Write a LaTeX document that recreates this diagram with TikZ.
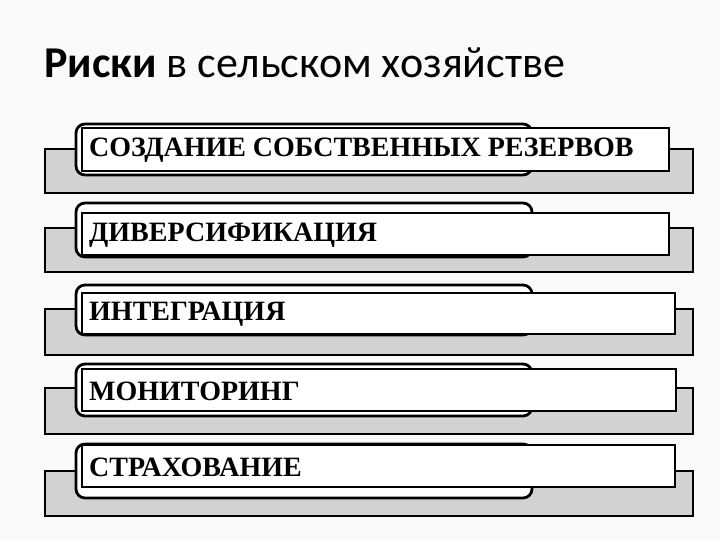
\documentclass[tikz,border=0pt]{standalone}
\usepackage{fontspec}
\setmainfont{Liberation Serif}
\newfontfamily\headfont{Carlito}
\usetikzlibrary{calc}
\definecolor{bg}{HTML}{F8FAFB}
\definecolor{bar}{HTML}{D2D2D2}
\definecolor{ink}{HTML}{000000}
\tikzset{
  barBox/.style={draw=ink, fill=bar, line width=2.4pt},
  tabBox/.style={draw=ink, fill=white, line width=2.8pt, rounded corners=9pt},
  itemBox/.style={draw=ink, fill=white, line width=2.4pt},
  itemLbl/.style={anchor=west, font=\bfseries\fontsize{28}{30}\selectfont, inner sep=0pt},
  titleLbl/.style={anchor=base west, font=\headfont\fontsize{44}{48}\selectfont, inner sep=0pt},
}

\begin{document}
\begin{tikzpicture}[x=1pt,y=-1pt]
  \fill[bg] (0,0) rectangle (720,540);
  \useasboundingbox (0,0) rectangle (720,540);

  \node[titleLbl] (title) at (44,78) {\textbf{Риски} в сельском хозяйстве};

  % bar top/bottom, tab top/bottom, box top/bottom, box right, text, name
  \foreach \gt/\gb/\rt/\rb/\bt/\bb/\br/\txt/\nm in {
      149/193/124/175/128/171/669/СОЗДАНИЕ СОБСТВЕННЫХ РЕЗЕРВОВ/reserve,
      228/272/203/257/213/255/669/ДИВЕРСИФИКАЦИЯ/divers,
      309/355/285/335/293/334/675/ИНТЕГРАЦИЯ/integr,
      388/434/364/416/369/411/676/МОНИТОРИНГ/monitor,
      471/516/444/498/445/487/675/СТРАХОВАНИЕ/insur}{
    \draw[barBox] (45,\gt) rectangle (693,\gb);
    \draw[tabBox] (76,\rt) rectangle (532,\rb);
    \draw[itemBox] (82,\bt) rectangle (\br,\bb);
    \node[itemLbl] (\nm) at (89,{(\bt+\bb)/2+1}) {\txt};
  }
\end{tikzpicture}
\end{document}
